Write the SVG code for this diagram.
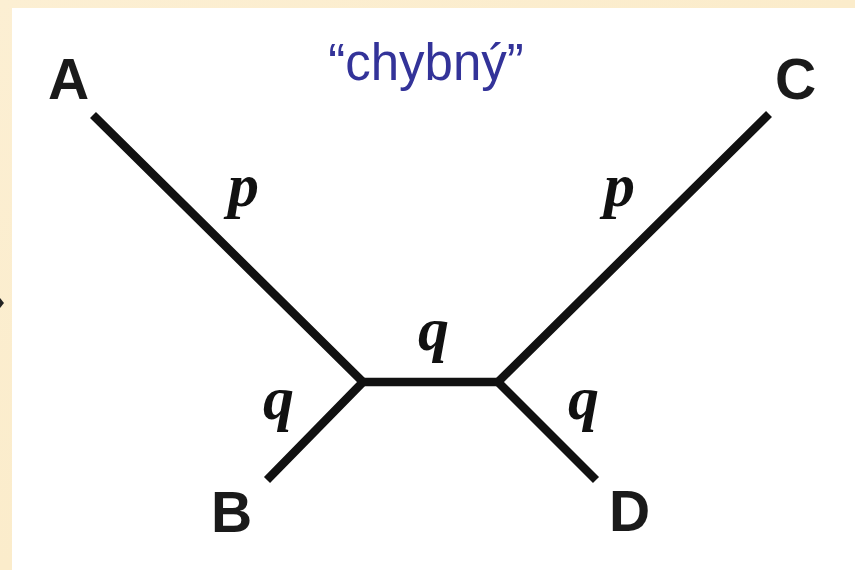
<svg xmlns="http://www.w3.org/2000/svg" width="855" height="570" viewBox="0 0 855 570">
  <defs>
    <style>
      .edge { stroke: #111; stroke-width: 8.5; stroke-linecap: butt; stroke-linejoin: miter; fill: none; }
      .taxon { font-family: "Liberation Sans", Arial, sans-serif; font-weight: bold; font-size: 57px; fill: #1a1a1a; }
      .len { font-family: "Liberation Serif", "Times New Roman", serif; font-weight: bold; font-style: italic; font-size: 62px; fill: #111; }
      .title { font-family: "Liberation Sans", Arial, sans-serif; font-size: 51px; fill: #333399; }
    </style>
    <linearGradient id="parch" x1="0" y1="0" x2="1" y2="1">
      <stop offset="0" stop-color="#fcefd3"/>
      <stop offset="0.5" stop-color="#fbeccb"/>
      <stop offset="1" stop-color="#fdf1d8"/>
    </linearGradient>
  </defs>
  <rect x="0" y="0" width="855" height="570" fill="url(#parch)"/>
  <rect x="12" y="8" width="843" height="562" fill="#ffffff"/>
  <path d="M0 298 L4 303 L0 308 Z" fill="#222"/>

  <text class="title" x="426" y="80" text-anchor="middle">“chybný”</text>

  <g id="connectors">
    <polyline class="edge" points="93,115 363,382 267,480"/>
    <line class="edge" x1="363" y1="382" x2="498" y2="382"/>
    <polyline class="edge" points="769,114 498,382 596,480"/>
  </g>

  <g id="node-A"><text class="taxon" x="48" y="99">A</text></g>
  <g id="node-C"><text class="taxon" x="775" y="99">C</text></g>
  <g id="node-B"><text class="taxon" x="211" y="532">B</text></g>
  <g id="node-D"><text class="taxon" x="609" y="531">D</text></g>

  <g id="labels">
    <text class="len" x="228" y="206">p</text>
    <text class="len" x="604" y="206">p</text>
    <text class="len" x="418" y="350">q</text>
    <text class="len" x="263" y="419">q</text>
    <text class="len" x="568" y="419">q</text>
  </g>
</svg>
